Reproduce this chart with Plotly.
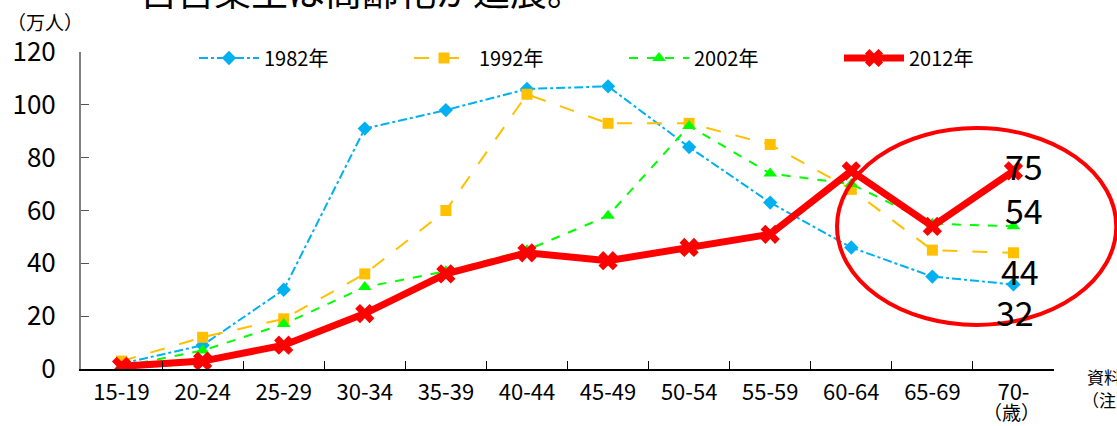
import plotly.graph_objects as go

categories = ["15-19", "20-24", "25-29", "30-34", "35-39", "40-44",
              "45-49", "50-54", "55-59", "60-64", "65-69", "70-"]
series_names = ["1982年", "1992年", "2002年", "2012年"]
v1982 = [2, 9, 30, 91, 98, 106, 107, 84, 63, 46, 35, 32]
v1992 = [3, 12, 19, 36, 60, 104, 93, 93, 85, 68, 45, 44]
v2002 = [1, 7, 17, 31, 37, 45, 58, 92, 74, 70, 55, 54]
v2012 = [1, 3, 9, 21, 36, 44, 41, 46, 51, 75, 54, 75]
y_ticks = [0, 20, 40, 60, 80, 100, 120]

NUM_FONT = "Liberation Sans Narrow, Arial Narrow, Noto Sans CJK JP"
JP_FONT = "Noto Sans CJK JP"

fig = go.Figure()

styles = [
    dict(color="#00B0F0", dash="dashdot", width=2, symbol="diamond", size=11),
    dict(color="#FFC000", dash="longdash", width=2, symbol="square", size=11),
    dict(color="#00FF00", dash="dash", width=2, symbol="triangle-up", size=12),
    dict(color="#FF0000", dash="solid", width=7, symbol="x", size=17),
]
all_values = [v1982, v1992, v2002, v2012]

for name, vals, st in zip(series_names, all_values, styles):
    fig.add_trace(go.Scatter(
        x=categories, y=vals, name=name, mode="lines+markers",
        line=dict(color=st["color"], dash=st["dash"], width=st["width"]),
        marker=dict(symbol=st["symbol"], size=st["size"], color=st["color"],
                    line=dict(width=0)),
    ))

# data labels on the last point of each series
label_shifts = {"2012年": (11, 5), "2002年": (11, 17), "1992年": (7, -18), "1982年": (2, -27)}
for name, vals in zip(series_names, all_values):
    dx, dy = label_shifts[name]
    fig.add_annotation(x=categories[-1], y=vals[-1], text=str(vals[-1]),
                       showarrow=False, xshift=dx, yshift=dy,
                       font=dict(size=34, color="black", family=NUM_FONT))

# red ellipse highlight
fig.add_shape(type="circle", xref="paper", yref="paper",
              x0=0.777, x1=1.064, y0=0.139, y1=0.760,
              line=dict(color="#FF0000", width=4))

# texts
fig.add_annotation(text="自営業主は高齢化が進展。", xref="paper", yref="paper",
                   x=(362 - 81) / 973, y=(369 + 10) / 317, xanchor="center", yanchor="middle",
                   showarrow=False, font=dict(size=37, color="black", family=JP_FONT))
fig.add_annotation(text="（万人）", xref="paper", yref="paper",
                   x=(45 - 81) / 973, y=(369 - 22) / 317, xanchor="center", yanchor="middle",
                   showarrow=False, font=dict(size=19, color="black", family=JP_FONT))
fig.add_annotation(text="（歳）", xref="paper", yref="paper",
                   x=(1011 - 81) / 973, y=(369 - 411) / 317, xanchor="center", yanchor="middle",
                   showarrow=False, font=dict(size=19, color="black", family=JP_FONT))
fig.add_annotation(text="資料：総務省「就業構造基本調査」", xref="paper", yref="paper",
                   x=(1085 - 81) / 973, y=(369 - 376) / 317, xanchor="left", yanchor="middle",
                   showarrow=False, font=dict(size=17, color="black", family=JP_FONT))
fig.add_annotation(text="（注）", xref="paper", yref="paper",
                   x=(1080 - 81) / 973, y=(369 - 399) / 317, xanchor="left", yanchor="middle",
                   showarrow=False, font=dict(size=17, color="black", family=JP_FONT))

fig.update_layout(
    width=1117, height=426,
    margin=dict(l=81, r=63, t=52, b=57, autoexpand=False),
    paper_bgcolor="white", plot_bgcolor="white",
    font=dict(family=NUM_FONT, color="black"),
    showlegend=True,
    legend=dict(orientation="h", x=(194 - 81) / 973, y=(369 - 58) / 317,
                xanchor="left", yanchor="middle",
                entrywidth=140, entrywidthmode="pixels",
                font=dict(size=20, family=NUM_FONT),
                bgcolor="rgba(0,0,0,0)", itemwidth=60),
)
fig.update_xaxes(
    type="category", showgrid=False, zeroline=False, automargin=False,
    showline=True, linecolor="black", linewidth=1.5,
    ticks="inside", ticklen=8, tickcolor="black", tickson="boundaries",
    tickfont=dict(size=22, family=NUM_FONT), ticklabelstandoff=3,
    range=[-0.5, len(categories) - 0.5],
)
fig.update_yaxes(
    range=[0, 120], tickvals=y_ticks, showgrid=False, zeroline=False, automargin=False,
    showline=True, linecolor="#808080", linewidth=2,
    ticks="inside", ticklen=8, tickcolor="#555555",
    tickfont=dict(size=26, family=NUM_FONT), ticklabelstandoff=18,
)

fig.write_html("out.html", config={"displayModeBar": False},
               post_script="document.body.style.margin='0';")
